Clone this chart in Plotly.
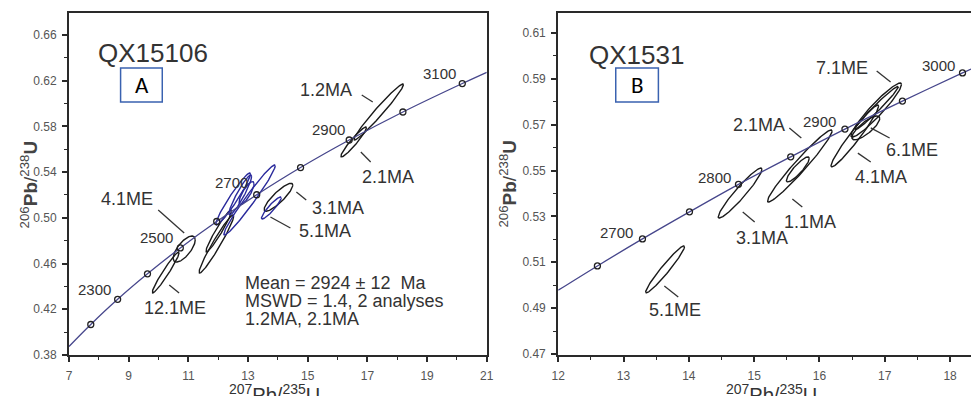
import numpy as np
import plotly.graph_objects as go

# ---------------- data ----------------
# Concordia curve points (207Pb/235U, 206Pb/238U)
conc_A_x = [7.0, 7.73, 8.63, 9.63, 10.73, 11.95, 13.29, 14.76, 16.39, 18.19, 20.18, 21.0]
conc_A_y = [0.3875, 0.4067, 0.4287, 0.4510, 0.4737, 0.4968, 0.5202, 0.5440, 0.5681, 0.5926, 0.6175, 0.6273]
conc_A_tick = [False, True, True, True, True, True, True, True, True, True, True, False]

conc_B_x = [12.0, 12.60, 13.29, 14.01, 14.76, 15.56, 16.39, 17.27, 18.19, 18.32]
conc_B_y = [0.4978, 0.5084, 0.5202, 0.5320, 0.5440, 0.5560, 0.5681, 0.5803, 0.5926, 0.5943]
conc_B_tick = [False, True, True, True, True, True, True, True, True, False]

# Error ellipses: centre x, centre y, half-extent x, half-extent y, correlation, colour group
ell_A_name = ["1.2MA", "2.1MA", "3.1MA", "5.1MA", "4.1ME", "12.1ME", "c1", "c2", "c3", "c4", "c5", "c6"]
ell_A_cx = [17.38, 16.54, 14.02, 13.78, 10.86, 10.24, 11.94, 12.02, 12.50, 13.05, 12.74, 12.95]
ell_A_cy = [0.5926, 0.5664, 0.5180, 0.5086, 0.4727, 0.4522, 0.4771, 0.4885, 0.5165, 0.5156, 0.5200, 0.5217]
ell_A_sx = [0.83, 0.43, 0.48, 0.33, 0.37, 0.45, 0.58, 0.43, 0.58, 0.86, 0.38, 0.25]
ell_A_sy = [0.0245, 0.0131, 0.0122, 0.0096, 0.0114, 0.0179, 0.0254, 0.0184, 0.0227, 0.0306, 0.0175, 0.0100]
ell_A_rho = [0.977, 0.95, 0.87, 0.92, 0.70, 0.965, 0.965, 0.96, 0.96, 0.975, 0.93, 0.80]
ell_A_blue = [False, False, False, True, False, False, False, False, True, True, True, True]

ell_B_name = ["5.1ME", "3.1MA", "2.1MA", "1.1MA", "4.1MA", "7.1ME", "7.1ME-in", "6.1ME"]
ell_B_cx = [13.636, 14.785, 15.699, 15.669, 16.542, 16.869, 16.877, 16.710]
ell_B_cy = [0.5069, 0.5402, 0.5520, 0.5505, 0.5651, 0.5764, 0.5773, 0.5686]
ell_B_sx = [0.297, 0.335, 0.494, 0.175, 0.365, 0.387, 0.330, 0.213]
ell_B_sy = [0.01025, 0.0109, 0.0157, 0.00545, 0.0135, 0.01178, 0.0094, 0.0052]
ell_B_rho = [0.965, 0.95, 0.97, 0.88, 0.965, 0.945, 0.98, 0.80]

# text labels (text, x, y, size)
labels_A = [
    ("1.2MA", 15.61, 0.6119, 18), ("2.1MA", 17.68, 0.5357, 18), ("3.1MA", 16.01, 0.5086, 18),
    ("5.1MA", 15.58, 0.4885, 18), ("4.1ME", 8.96, 0.5165, 18), ("12.1ME", 10.56, 0.4211, 18),
    ("3100", 19.40, 0.6267, 15), ("2900", 15.68, 0.5769, 15), ("2700", 12.45, 0.5305, 15),
    ("2500", 9.93, 0.4824, 15), ("2300", 7.86, 0.4369, 15),
]
labels_B = [
    ("5.1ME", 13.79, 0.4892, 18), ("3.1MA", 15.114, 0.5206, 18), ("1.1MA", 15.858, 0.5276, 18),
    ("2.1MA", 15.08, 0.5699, 18), ("7.1ME", 16.345, 0.5947, 18), ("6.1ME", 17.423, 0.5590, 18),
    ("4.1MA", 16.937, 0.5472, 18),
    ("2900", 15.995, 0.5712, 15), ("3000", 17.818, 0.5960, 15), ("2800", 14.40, 0.5468, 15),
    ("2700", 12.896, 0.5232, 15),
]
leaders_A = [
    (16.81, 0.6075, 17.18, 0.6014), (16.78, 0.5576, 17.11, 0.5489), (14.62, 0.5226, 14.95, 0.5156),
    (13.75, 0.5007, 14.42, 0.4911), (9.99, 0.5069, 10.86, 0.4867), (10.36, 0.4412, 10.69, 0.4342),
]
leaders_B = [
    (16.876, 0.5934, 17.089, 0.5886), (15.539, 0.5686, 15.722, 0.5642), (17.074, 0.5642, 16.785, 0.5686),
    (16.785, 0.5537, 16.588, 0.5576), (15.737, 0.5341, 15.585, 0.5376), (15.008, 0.5276, 14.825, 0.5319),
    (13.625, 0.4997, 13.838, 0.4949),
]
mean_lines = ["Mean = 2924 \u00b1 12  Ma", "MSWD = 1.4, 2 analyses", "1.2MA, 2.1MA"]

# ---------------- figure ----------------
FONT = "Liberation Sans, Arial, sans-serif"
CONC = "#47478c"
BLUE = "#2a2a9c"
fig = go.Figure()

def ellipse(cx, cy, sx, sy, rho, n=120):
    t = np.linspace(0, 2 * np.pi, n)
    return cx + sx * np.cos(t), cy + sy * (rho * np.cos(t) + np.sqrt(1 - rho ** 2) * np.sin(t))

for cx_, cy_, sx_, sy_, r_, b_ in zip(ell_A_cx, ell_A_cy, ell_A_sx, ell_A_sy, ell_A_rho, ell_A_blue):
    ex, ey = ellipse(cx_, cy_, sx_, sy_, r_)
    fig.add_trace(go.Scatter(x=ex, y=ey, mode="lines", line=dict(color=BLUE if b_ else "#1a1a1a", width=1.4),
                             xaxis="x", yaxis="y", showlegend=False, hoverinfo="skip"))
for cx_, cy_, sx_, sy_, r_ in zip(ell_B_cx, ell_B_cy, ell_B_sx, ell_B_sy, ell_B_rho):
    ex, ey = ellipse(cx_, cy_, sx_, sy_, r_)
    fig.add_trace(go.Scatter(x=ex, y=ey, mode="lines", line=dict(color="#1a1a1a", width=1.4),
                             xaxis="x2", yaxis="y2", showlegend=False, hoverinfo="skip"))

# concordia
fig.add_trace(go.Scatter(x=conc_A_x, y=conc_A_y, mode="lines", line=dict(color=CONC, width=1.3, shape="spline"),
                         xaxis="x", yaxis="y", showlegend=False))
fig.add_trace(go.Scatter(x=[a for a, k in zip(conc_A_x, conc_A_tick) if k],
                         y=[a for a, k in zip(conc_A_y, conc_A_tick) if k], mode="markers",
                         marker=dict(symbol="circle-open", size=6, color="#222", line=dict(width=1.3)),
                         xaxis="x", yaxis="y", showlegend=False))
fig.add_trace(go.Scatter(x=conc_B_x, y=conc_B_y, mode="lines", line=dict(color=CONC, width=1.3, shape="spline"),
                         xaxis="x2", yaxis="y2", showlegend=False))
fig.add_trace(go.Scatter(x=[a for a, k in zip(conc_B_x, conc_B_tick) if k],
                         y=[a for a, k in zip(conc_B_y, conc_B_tick) if k], mode="markers",
                         marker=dict(symbol="circle-open", size=6, color="#222", line=dict(width=1.3)),
                         xaxis="x2", yaxis="y2", showlegend=False))

ann = []
shapes = []
for t, x, y, s in labels_A:
    ann.append(dict(text=t, x=x, y=y, xref="x", yref="y", showarrow=False, font=dict(size=s, color="#333", family=FONT)))
for t, x, y, s in labels_B:
    ann.append(dict(text=t, x=x, y=y, xref="x2", yref="y2", showarrow=False, font=dict(size=s, color="#333", family=FONT)))
for x0, y0, x1, y1 in leaders_A:
    shapes.append(dict(type="line", xref="x", yref="y", x0=x0, y0=y0, x1=x1, y1=y1, line=dict(color="#333", width=1.3)))
for x0, y0, x1, y1 in leaders_B:
    shapes.append(dict(type="line", xref="x2", yref="y2", x0=x0, y0=y0, x1=x1, y1=y1, line=dict(color="#333", width=1.3)))

for i, (line, yy) in enumerate(zip(mean_lines, [0.4430, 0.4273, 0.4115])):
    ann.append(dict(text=line, x=12.82, y=yy, xref="x", yref="y", xanchor="left", showarrow=False,
                    font=dict(size=18, color="#333", family=FONT)))

# sample titles and boxes
ann.append(dict(text="QX15106", x=9.83, y=0.6442, xref="x", yref="y", showarrow=False,
                font=dict(size=26, color="#333", family=FONT)))
ann.append(dict(text="QX1531", x=13.20, y=0.6004, xref="x2", yref="y2", showarrow=False,
                font=dict(size=26, color="#333", family=FONT)))
shapes.append(dict(type="rect", xref="x", yref="y", x0=8.729, x1=10.126, y0=0.6014, y1=0.6311,
                   line=dict(color="#3a62b0", width=1.5), fillcolor="white"))
ann.append(dict(text="A", x=9.43, y=0.6162, xref="x", yref="y", showarrow=False,
                font=dict(size=23, color="black", family="Carlito, Liberation Sans, sans-serif")))
shapes.append(dict(type="rect", xref="x2", yref="y2", x0=12.881, x1=13.534, y0=0.5799, y1=0.5947,
                   line=dict(color="#3a62b0", width=1.5), fillcolor="white"))
ann.append(dict(text="B", x=13.207, y=0.5873, xref="x2", yref="y2", showarrow=False,
                font=dict(size=23, color="black", family="Carlito, Liberation Sans, sans-serif")))

# axis titles
ytitle = "<sup>206</sup><b>Pb</b>/<sup>238</sup><b>U</b>"
xtitle = "<sup>207</sup>Pb/<sup>235</sup>U"
ann.append(dict(text=ytitle, x=-54 / 909, y=0.5, xref="paper", yref="paper", textangle=-90, showarrow=False,
                font=dict(size=19, color="#444", family=FONT)))
ann.append(dict(text=ytitle, x=(511 - 69) / 909, y=0.5, xref="paper", yref="paper", textangle=-90, showarrow=False,
                font=dict(size=19, color="#444", family=FONT)))
ann.append(dict(text=xtitle, x=13.88, y=(355 - 379) / 342, xref="x", yref="paper", yanchor="top", xanchor="center",
                showarrow=False, font=dict(size=20, color="#333", family=FONT)))
ann.append(dict(text=xtitle, x=15.27, y=(355 - 379) / 342, xref="x2", yref="paper", yanchor="top", xanchor="center",
                showarrow=False, font=dict(size=20, color="#333", family=FONT)))

axis_common = dict(showgrid=False, zeroline=False, showline=True, linecolor="#2a2a2a", linewidth=2,
                   ticks="outside", ticklen=5, tickwidth=1.5, tickcolor="#2a2a2a",
                   tickfont=dict(size=12, color="#555", family=FONT),
                   minor=dict(ticks="outside", ticklen=3, tickwidth=1.2, tickcolor="#2a2a2a"))

fig.update_layout(
    width=978, height=396, margin=dict(l=69, r=0, t=13, b=41),
    paper_bgcolor="white", plot_bgcolor="white",
    xaxis=dict(domain=[0, 421 / 909], range=[7, 21], tick0=7, dtick=2, mirror=True,
               ticklabelstandoff=4, anchor="y", **{**axis_common, "minor": dict(axis_common["minor"], dtick=1)}),
    yaxis=dict(domain=[0, 1], range=[0.38, 0.6792], tick0=0.38, dtick=0.04, tickformat=".2f", mirror=True,
               ticklabelstandoff=3, anchor="x", **{**axis_common, "minor": dict(axis_common["minor"], dtick=0.02)}),
    xaxis2=dict(domain=[493 / 909, 1], range=[12, 18.32], tick0=12, dtick=1, mirror=True,
                ticklabelstandoff=4, anchor="y2", **{**axis_common, "minor": dict(axis_common["minor"], dtick=0.5)}),
    yaxis2=dict(domain=[0, 1], range=[0.46956, 0.61872], tick0=0.47, dtick=0.02, tickformat=".2f", mirror=False,
                ticklabelstandoff=3, anchor="x2", **{**axis_common, "minor": dict(axis_common["minor"], dtick=0.01)}),
    annotations=ann, shapes=shapes,
)

fig.write_html("out.html", config={"displayModeBar": False},
               post_script="document.body.style.margin='0';document.body.style.overflow='hidden';")
